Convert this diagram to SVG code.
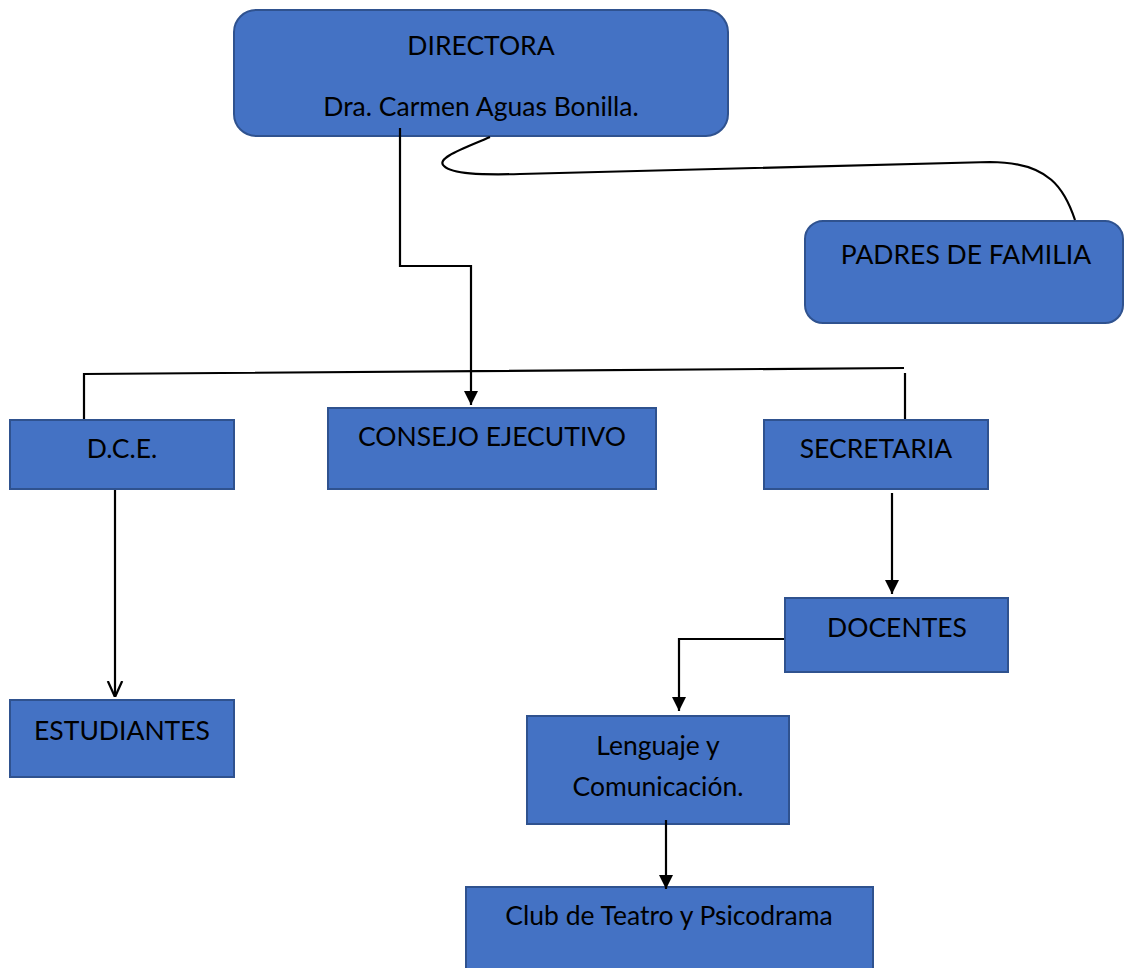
<svg xmlns="http://www.w3.org/2000/svg" width="1124" height="968" viewBox="0 0 1124 968">
<defs>
<style>
.box{fill:#4472C4;stroke:#2F528F;stroke-width:2}
.t{font-family:Lato,"Open Sans",sans-serif;font-size:26.5px;fill:#000;text-anchor:middle}
.c{fill:none;stroke:#000;stroke-width:2.2}
</style>
<marker id="arr" viewBox="0 0 10 10" refX="10" refY="5" markerWidth="15" markerHeight="14" markerUnits="userSpaceOnUse" orient="auto">
<path d="M0,0 L10,5 L0,10 z" fill="#000"/>
</marker>
<marker id="open" viewBox="0 0 10 10" refX="10" refY="5" markerWidth="16" markerHeight="20" markerUnits="userSpaceOnUse" orient="auto">
<path d="M0,0.5 L10,5 L0,9.5" fill="none" stroke="#000" stroke-width="1.4"/>
</marker>
</defs>
<rect width="1124" height="968" fill="#fff"/>
<g id="directora">
<rect class="box" x="234" y="10" width="494" height="126" rx="22"/>
<text class="t" x="481" y="55">DIRECTORA</text>
<text class="t" x="481" y="116">Dra. Carmen Aguas Bonilla.</text>
</g>
<g id="padres">
<rect class="box" x="805" y="221" width="318" height="102" rx="18"/>
<text class="t" x="966" y="264">PADRES DE FAMILIA</text>
</g>
<g id="dce">
<rect class="box" x="10" y="420" width="224" height="69"/>
<text class="t" x="122" y="458">D.C.E.</text>
</g>
<g id="consejo">
<rect class="box" x="328" y="408" width="328" height="81"/>
<text class="t" x="492" y="446">CONSEJO EJECUTIVO</text>
</g>
<g id="secretaria">
<rect class="box" x="764" y="420" width="224" height="69"/>
<text class="t" x="876" y="458">SECRETARIA</text>
</g>
<g id="docentes">
<rect class="box" x="785" y="598" width="223" height="74"/>
<text class="t" x="897" y="637">DOCENTES</text>
</g>
<g id="estudiantes">
<rect class="box" x="10" y="700" width="224" height="77"/>
<text class="t" x="122" y="740">ESTUDIANTES</text>
</g>
<g id="lenguaje">
<rect class="box" x="527" y="716" width="262" height="108"/>
<text class="t" x="658" y="755">Lenguaje y</text>
<text class="t" x="658" y="796">Comunicación.</text>
</g>
<g id="club">
<rect class="box" x="466" y="887" width="407" height="90"/>
<text class="t" x="669" y="925">Club de Teatro y Psicodrama</text>
</g>
<g id="connectors">
<path class="c" d="M490,137 C465,148 435,158 444,166 C452,174 480,175 520,174 L990,162 C1050,162 1065,190 1075,220"/>
<path class="c" d="M400,128 L400,266 L471,266 L471,405" marker-end="url(#arr)"/>
<path class="c" d="M84,419 L84,374 L904,368"/>
<path class="c" d="M905,373 L905,419"/>
<path class="c" d="M115,490 L115,697" marker-end="url(#open)"/>
<path class="c" d="M892,493 L892,594" marker-end="url(#arr)"/>
<path class="c" d="M784,639 L679,639 L679,711" marker-end="url(#arr)"/>
<path class="c" d="M666,820 L666,889" marker-end="url(#arr)"/>
</g>
</svg>
